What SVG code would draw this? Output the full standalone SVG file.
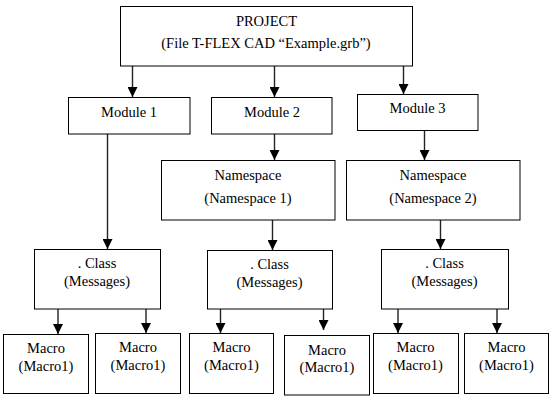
<svg xmlns="http://www.w3.org/2000/svg" width="558" height="405" viewBox="0 0 558 405">
<defs>
<marker id="ah" markerUnits="userSpaceOnUse" markerWidth="11" markerHeight="10" refX="10" refY="5" orient="auto">
<path d="M0,0 L10,5 L0,10 Z" fill="#000"/>
</marker>
<style>
.box{fill:#fff;stroke:#000;stroke-width:1}
.t{font-family:"Liberation Serif","Times New Roman",serif;font-size:14.5px;fill:#000;text-anchor:middle}
.c{stroke:#222;stroke-width:1.4;fill:none;marker-end:url(#ah)}
</style>
</defs>
<rect width="558" height="405" fill="#fff"/>
<g id="connectors">
<line class="c" x1="132.5" y1="66" x2="132.5" y2="97"/>
<line class="c" x1="274.5" y1="66" x2="274.5" y2="97"/>
<line class="c" x1="403.5" y1="66" x2="403.5" y2="94"/>
<line class="c" x1="107.5" y1="134" x2="107.5" y2="249"/>
<line class="c" x1="274.5" y1="134" x2="274.5" y2="160"/>
<line class="c" x1="424.5" y1="130" x2="424.5" y2="160"/>
<line class="c" x1="272.5" y1="220" x2="272.5" y2="250"/>
<line class="c" x1="440.5" y1="220" x2="440.5" y2="249"/>
<line class="c" x1="58" y1="309" x2="58" y2="334"/>
<line class="c" x1="146" y1="309" x2="146" y2="333"/>
<line class="c" x1="220.5" y1="309" x2="220.5" y2="333"/>
<line class="c" x1="323.5" y1="309" x2="323.5" y2="330"/>
<line class="c" x1="398" y1="309" x2="398" y2="333"/>
<line class="c" x1="497" y1="309" x2="497" y2="333"/>
</g>
<g id="project">
<rect class="box" x="120.5" y="6.5" width="292" height="59.5"/>
<text class="t" x="266.5" y="26">PROJECT</text>
<text class="t" x="266" y="48">(File T-FLEX CAD “Example.grb”)</text>
</g>
<g id="module1">
<rect class="box" x="68.5" y="97.5" width="121.5" height="36.5"/>
<text class="t" x="129" y="117">Module 1</text>
</g>
<g id="module2">
<rect class="box" x="211.5" y="97.5" width="120.5" height="36.5"/>
<text class="t" x="272" y="117">Module 2</text>
</g>
<g id="module3">
<rect class="box" x="357.5" y="94.5" width="120.5" height="36"/>
<text class="t" x="417.5" y="113">Module 3</text>
</g>
<g id="namespace1">
<rect class="box" x="161.5" y="160.5" width="173.5" height="59.5"/>
<text class="t" x="248" y="180">Namespace</text>
<text class="t" x="248" y="203">(Namespace 1)</text>
</g>
<g id="namespace2">
<rect class="box" x="346.5" y="160.5" width="173.5" height="59.5"/>
<text class="t" x="433" y="180">Namespace</text>
<text class="t" x="433" y="203">(Namespace 2)</text>
</g>
<g id="class1">
<rect class="box" x="34.5" y="249.5" width="126" height="59.5"/>
<text class="t" x="97" y="268">. Class</text>
<text class="t" x="97" y="286">(Messages)</text>
</g>
<g id="class2">
<rect class="box" x="207.5" y="250.5" width="125" height="58.5"/>
<text class="t" x="269.5" y="269">. Class</text>
<text class="t" x="269.5" y="287">(Messages)</text>
</g>
<g id="class3">
<rect class="box" x="381.5" y="249.5" width="127" height="59.5"/>
<text class="t" x="444.5" y="268">. Class</text>
<text class="t" x="444.5" y="286">(Messages)</text>
</g>
<g id="macro1">
<rect class="box" x="3.5" y="334.5" width="85" height="59"/>
<text class="t" x="46" y="353">Macro</text>
<text class="t" x="46" y="371">(Macro1)</text>
</g>
<g id="macro2">
<rect class="box" x="95.5" y="333.5" width="85" height="60"/>
<text class="t" x="138" y="352">Macro</text>
<text class="t" x="138" y="370">(Macro1)</text>
</g>
<g id="macro3">
<rect class="box" x="189.5" y="333.5" width="84" height="60"/>
<text class="t" x="231.5" y="352">Macro</text>
<text class="t" x="231.5" y="370">(Macro1)</text>
</g>
<g id="macro4">
<rect class="box" x="284.5" y="335.5" width="85" height="59.5"/>
<text class="t" x="327" y="355">Macro</text>
<text class="t" x="327" y="372">(Macro1)</text>
</g>
<g id="macro5">
<rect class="box" x="373.5" y="333.5" width="85" height="60"/>
<text class="t" x="415.5" y="352">Macro</text>
<text class="t" x="415.5" y="370">(Macro1)</text>
</g>
<g id="macro6">
<rect class="box" x="464.5" y="333.5" width="84" height="60"/>
<text class="t" x="506.5" y="352">Macro</text>
<text class="t" x="506.5" y="370">(Macro1)</text>
</g>
</svg>
